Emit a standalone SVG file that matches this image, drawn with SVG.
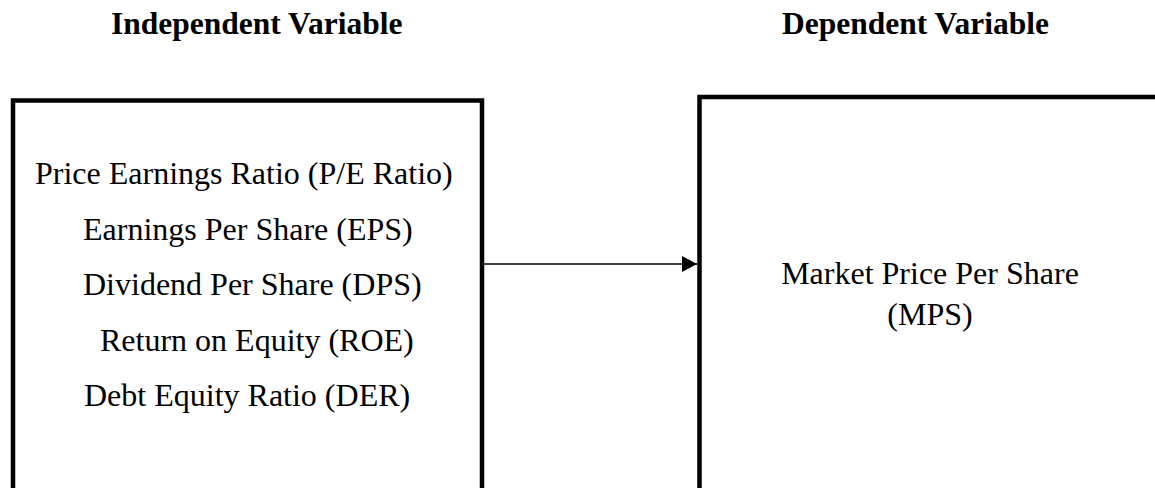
<svg xmlns="http://www.w3.org/2000/svg" width="1155" height="488" viewBox="0 0 1155 488">
<style>
.box{fill:#fff;stroke:#000;stroke-width:4.5}
.t{font-family:"Liberation Serif","Times New Roman",serif;font-size:32px;fill:#000}
.h{font-family:"Liberation Serif","Times New Roman",serif;font-size:31.5px;font-weight:bold;fill:#000}
.c{fill:none;stroke:#000;stroke-width:1.6}
</style>
<defs>
<marker id="arr" markerUnits="userSpaceOnUse" markerWidth="15" markerHeight="16" refX="15" refY="8" orient="auto">
<path d="M0,0 L15,8 L0,16 Z" fill="#000"/>
</marker>
</defs>
<rect width="1155" height="488" fill="#fff"/>
<text class="h" x="111" y="34">Independent Variable</text>
<text class="h" x="782" y="34">Dependent Variable</text>
<g id="independent">
<rect class="box" x="13" y="100.5" width="469" height="400"/>
<text class="t" x="35" y="184">Price Earnings Ratio (P/E Ratio)</text>
<text class="t" x="83" y="239.5">Earnings Per Share (EPS)</text>
<text class="t" x="83" y="295">Dividend Per Share (DPS)</text>
<text class="t" x="100" y="350.5">Return on Equity (ROE)</text>
<text class="t" x="84" y="406">Debt Equity Ratio (DER)</text>
</g>
<g id="dependent">
<rect class="box" x="699.5" y="97" width="500" height="420"/>
<text class="t" x="930" y="284" text-anchor="middle">Market Price Per Share</text>
<text class="t" x="930" y="325" text-anchor="middle">(MPS)</text>
</g>
<g id="connectors">
<line class="c" x1="484" y1="264" x2="697" y2="264" marker-end="url(#arr)"/>
</g>
</svg>
